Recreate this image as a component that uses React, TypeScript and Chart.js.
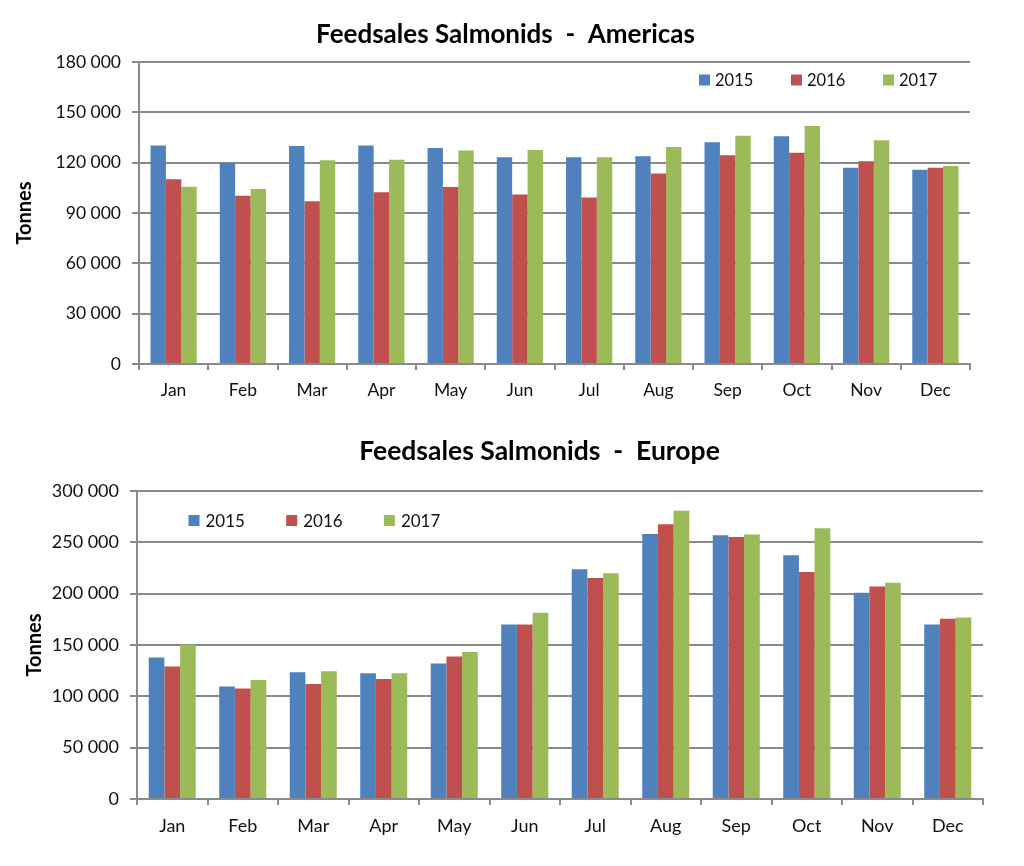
import React, { useEffect, useRef } from "react";
import { Chart, registerables } from "chart.js";

Chart.register(...registerables);

// ---------- data ----------
const months = ["Jan", "Feb", "Mar", "Apr", "May", "Jun", "Jul", "Aug", "Sep", "Oct", "Nov", "Dec"];
const years = ["2015", "2016", "2017"];

const americas2015 = [130300, 120000, 130000, 130300, 128700, 123200, 123200, 123800, 132100, 135700, 117000, 115800];
const americas2016 = [110100, 100300, 97000, 102300, 105500, 101100, 99300, 113600, 124400, 125900, 120800, 117000];
const americas2017 = [105700, 104300, 121400, 121800, 127200, 127500, 123200, 129300, 136100, 141900, 133300, 118000];

const europe2015 = [137800, 109500, 123500, 122500, 132000, 170000, 223900, 258100, 256800, 237300, 200900, 170000];
const europe2016 = [129000, 107600, 112100, 117000, 138800, 170000, 215200, 267500, 255100, 221000, 207000, 175500];
const europe2017 = [150200, 116000, 124500, 122500, 143300, 181400, 220000, 280800, 257700, 263600, 210600, 176800];

const americasTickMax = 180000;
const americasTickStep = 30000;
const europeTickMax = 300000;
const europeTickStep = 50000;

const americasTitle = "Feedsales Salmonids  -  Americas";
const europeTitle = "Feedsales Salmonids  -  Europe";
const yAxisTitle = "Tonnes";

// ---------- styles ----------
const COLORS = ["#4F81BD", "#C0504D", "#9BBB59"];
const GRID = "#8a8a8a";
const TEXT = "#111111";
const FONT = "Lato";

const fmt = (v: number) => String(v).replace(/\B(?=(\d{3})+(?!\d))/g, " ");

const insideLegend = {
  id: "insideLegend",
  afterDraw(chart: any, _args: any, opts: any) {
    if (!opts || !opts.display) return;
    const { ctx, chartArea } = chart;
    const x0 = opts.anchor === "right" ? chartArea.right - opts.offsetX : chartArea.left + opts.offsetX;
    const y = chartArea.top + opts.offsetY;
    ctx.save();
    ctx.font = `${opts.fontSize}px ${FONT}`;
    ctx.textBaseline = "middle";
    ctx.textAlign = "left";
    chart.data.datasets.forEach((ds: any, i: number) => {
      const x = x0 + i * opts.spacing;
      ctx.fillStyle = ds.backgroundColor;
      ctx.fillRect(x, y - opts.box / 2, opts.box, opts.box);
      ctx.fillStyle = TEXT;
      ctx.fillText(ds.label, x + opts.box + opts.gap, y + 1);
    });
    ctx.restore();
  },
};

const titleShift = {
  id: "titleShift",
  afterLayout(chart: any, _args: any, opts: any) {
    const t = chart.titleBlock;
    if (t && opts && opts.center != null) {
      const dx = opts.center - (t.left + t.right) / 2;
      t.left += dx;
      t.right += dx;
    }
  },
};

type Spec = {
  title: string;
  s1: number[];
  s2: number[];
  s3: number[];
  max: number;
  step: number;
  height: number;
  areaLeft: number;
  padRight: number;
  xHeight: number;
  titleSize: number;
  titlePadTop: number;
  titlePadBottom: number;
  titleCenter: number;
  tickSize: number;
  xPad: number;
  yTitlePad: number;
  legend: any;
};

function BarChart({ spec }: { spec: Spec }) {
  const ref = useRef<HTMLCanvasElement | null>(null);
  useEffect(() => {
    if (!ref.current) return;
    const series = [spec.s1, spec.s2, spec.s3];
    const chart = new Chart(ref.current, {
      type: "bar",
      data: {
        labels: months,
        datasets: years.map((y, i) => ({
          label: y,
          data: series[i],
          backgroundColor: COLORS[i],
          borderWidth: 0,
          categoryPercentage: 0.667,
          barPercentage: 1,
        })),
      },
      plugins: [insideLegend, titleShift],
      options: {
        animation: false,
        responsive: false,
        devicePixelRatio: 1,
        layout: { padding: { left: 0, right: spec.padRight, top: 0, bottom: 0 } },
        plugins: {
          legend: { display: false },
          tooltip: { enabled: false },
          title: {
            display: true,
            text: spec.title,
            color: "#000",
            font: { family: FONT, size: spec.titleSize, weight: "bold" },
            padding: { top: spec.titlePadTop, bottom: spec.titlePadBottom },
          },
          insideLegend: spec.legend,
          titleShift: { center: spec.titleCenter },
        } as any,
        scales: {
          x: {
            afterFit: (s: any) => {
              s.height = spec.xHeight;
            },
            grid: {
              display: true,
              drawOnChartArea: false,
              drawTicks: true,
              tickLength: 6,
              offset: true,
              color: GRID,
              lineWidth: 2,
            },
            border: { display: true, color: GRID, width: 2 },
            ticks: {
              color: TEXT,
              font: { family: FONT, size: spec.tickSize },
              padding: spec.xPad,
              maxRotation: 0,
            },
          },
          y: {
            min: 0,
            max: spec.max,
            afterFit: (s: any) => {
              s.width = spec.areaLeft;
            },
            grid: { color: GRID, lineWidth: 2, drawTicks: true, tickLength: 7 },
            border: { display: true, color: GRID, width: 2 },
            ticks: {
              stepSize: spec.step,
              color: TEXT,
              font: { family: FONT, size: spec.tickSize },
              padding: 11,
              callback: (v: any) => fmt(Number(v)),
            },
            title: {
              display: true,
              text: yAxisTitle,
              color: "#000",
              font: { family: FONT, size: 20, weight: "bold" },
              padding: { top: spec.yTitlePad, bottom: 0 },
            },
          },
        },
      } as any,
    });
    return () => chart.destroy();
  }, [spec]);
  return <canvas ref={ref} width={1024} height={spec.height} style={{ display: "block", width: 1024, height: spec.height }} />;
}

const americasSpec: Spec = {
  title: americasTitle,
  s1: americas2015,
  s2: americas2016,
  s3: americas2017,
  max: americasTickMax,
  step: americasTickStep,
  height: 420,
  areaLeft: 139,
  padRight: 54,
  xHeight: 56,
  titleSize: 26,
  titlePadTop: 19,
  titlePadBottom: 11.8,
  titleCenter: 505.5,
  tickSize: 17.5,
  xPad: 9.5,
  yTitlePad: 13,
  legend: { display: true, anchor: "right", offsetX: 271, offsetY: 18, spacing: 92, box: 11, gap: 5, fontSize: 16.5 },
};

const europeSpec: Spec = {
  title: europeTitle,
  s1: europe2015,
  s2: europe2016,
  s3: europe2017,
  max: europeTickMax,
  step: europeTickStep,
  height: 446,
  areaLeft: 137,
  padRight: 41,
  xHeight: 67,
  titleSize: 26.5,
  titlePadTop: 16,
  titlePadBottom: 23.2,
  titleCenter: 539.5,
  tickSize: 18,
  xPad: 10.5,
  yTitlePad: 23,
  legend: { display: true, anchor: "left", offsetX: 51.5, offsetY: 29.5, spacing: 97.7, box: 11, gap: 6, fontSize: 17 },
};

export default function App() {
  return (
    <div style={{ position: "absolute", left: 0, top: 0, width: 1024, height: 866, background: "#fff", overflow: "hidden" }}>
      <div style={{ position: "absolute", left: 0, top: 0 }}>
        <BarChart spec={americasSpec} />
      </div>
      <div style={{ position: "absolute", left: 0, top: 420 }}>
        <BarChart spec={europeSpec} />
      </div>
    </div>
  );
}
